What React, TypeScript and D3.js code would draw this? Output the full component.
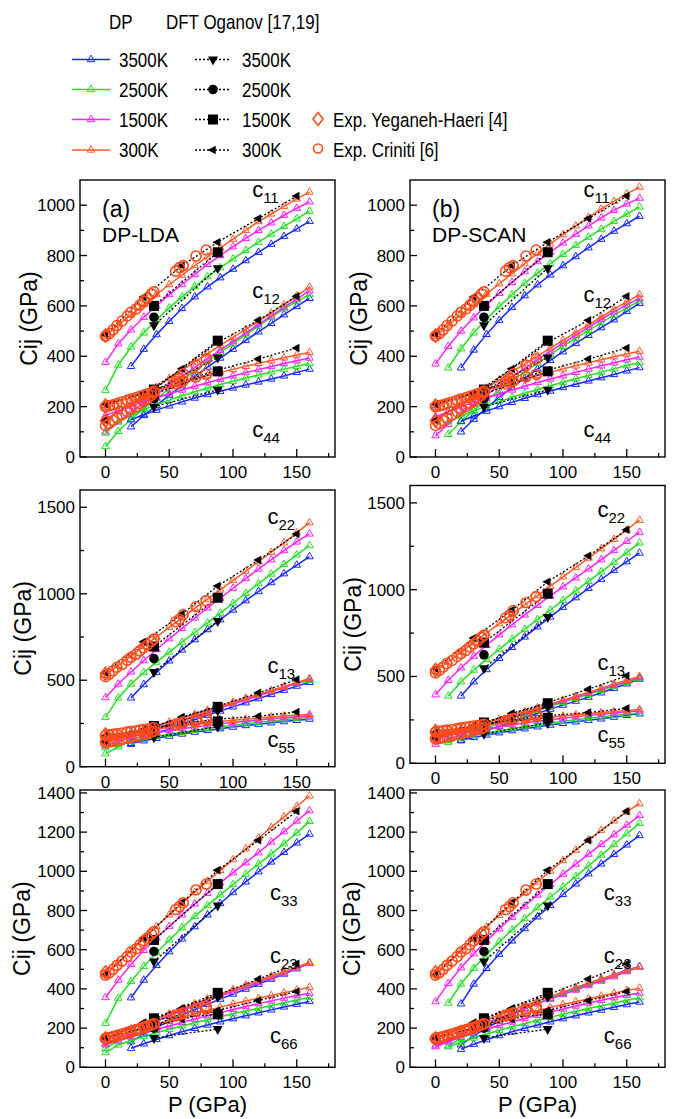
import React from 'react';
import * as d3 from 'd3';

// ---------- pressure grids (GPa) ----------
const P0 = [0, 10, 20, 30, 40, 50, 60, 70, 80, 90, 100, 110, 120, 130, 140, 150, 160];
const P10 = [10, 20, 30, 40, 50, 60, 70, 80, 90, 100, 110, 120, 130, 140, 150, 160];
const P20 = [20, 30, 40, 50, 60, 70, 80, 90, 100, 110, 120, 130, 140, 150, 160];

// order of temperature series everywhere: 3500K, 2500K, 1500K, 300K
const TEMPS = ['3500K', '2500K', '1500K', '300K'];
const DP_COLORS = ['#1428ff', '#22e022', '#ff1eff', '#ff5a28'];
const EXP_COLOR = '#ff4a1a';
const LDA_P = [P20, P0, P0, P0];
const SCAN_P = [P20, P10, P0, P0];

// ---------- DP-LDA ----------
const LDA_C11 = [
  [360, 428, 486, 539, 590, 636, 676, 712, 746, 780, 813, 845, 876, 906, 936],
  [265, 365, 437, 493, 545, 592, 636, 677, 716, 752, 787, 820, 853, 885, 916, 946, 976],
  [376, 450, 505, 555, 600, 645, 685, 725, 765, 800, 835, 868, 900, 930, 960, 988, 1013],
  [480, 525, 565, 605, 645, 685, 722, 760, 795, 830, 865, 900, 935, 965, 995, 1025, 1052],
];
const LDA_C12 = [
  [120, 165, 205, 245, 283, 320, 357, 393, 428, 463, 497, 531, 565, 598, 630],
  [42, 102, 150, 192, 232, 270, 307, 343, 380, 415, 450, 485, 520, 555, 588, 618, 645],
  [100, 140, 178, 215, 250, 285, 320, 355, 390, 424, 458, 492, 526, 560, 594, 627, 660],
  [145, 180, 212, 245, 278, 312, 345, 378, 410, 443, 475, 507, 540, 572, 605, 640, 675],
];
const LDA_C44 = [
  [148, 168, 186, 203, 219, 234, 248, 261, 274, 286, 298, 310, 322, 336, 349],
  [95, 140, 165, 188, 208, 226, 243, 259, 274, 288, 301, 314, 326, 338, 349, 360, 371],
  [165, 184, 202, 219, 235, 251, 266, 281, 295, 309, 322, 335, 347, 359, 371, 382, 393],
  [205, 220, 235, 250, 265, 280, 295, 310, 323, 336, 348, 360, 372, 383, 394, 405, 415],
];
const LDA_C22 = [
  [398, 475, 545, 612, 675, 735, 793, 850, 906, 960, 1013, 1065, 1116, 1166, 1215],
  [285, 398, 478, 545, 605, 663, 720, 776, 832, 888, 945, 1002, 1058, 1114, 1170, 1225, 1279],
  [400, 478, 548, 614, 678, 740, 800, 860, 918, 975, 1032, 1088, 1143, 1197, 1250, 1300, 1346],
  [530, 586, 641, 696, 751, 806, 861, 915, 969, 1023, 1077, 1131, 1185, 1240, 1295, 1352, 1411],
];
const LDA_C13 = [
  [130, 162, 192, 220, 247, 273, 298, 322, 346, 370, 394, 418, 442, 466, 488],
  [75, 115, 150, 182, 212, 240, 267, 293, 318, 343, 367, 391, 415, 439, 462, 481, 500],
  [120, 145, 170, 195, 220, 245, 269, 293, 317, 340, 363, 386, 410, 433, 458, 482, 505],
  [147, 168, 190, 212, 235, 258, 281, 304, 327, 350, 373, 396, 419, 441, 464, 487, 510],
];
const LDA_C55 = [
  [135, 150, 164, 177, 189, 200, 210, 220, 229, 238, 246, 254, 261, 268, 275],
  [110, 128, 145, 160, 174, 187, 199, 210, 221, 231, 240, 249, 257, 265, 272, 279, 285],
  [150, 163, 175, 187, 198, 209, 219, 229, 238, 247, 255, 263, 270, 277, 283, 288, 293],
  [183, 192, 201, 210, 219, 228, 237, 245, 253, 261, 268, 275, 282, 288, 294, 298, 302],
];
const LDA_C33 = [
  [355, 445, 520, 590, 655, 718, 778, 836, 892, 946, 998, 1048, 1097, 1145, 1190],
  [225, 353, 438, 515, 585, 650, 712, 770, 826, 880, 933, 985, 1037, 1089, 1141, 1196, 1255],
  [356, 445, 525, 597, 660, 720, 778, 834, 888, 941, 993, 1044, 1095, 1150, 1203, 1257, 1310],
  [472, 534, 596, 658, 719, 778, 836, 893, 950, 1005, 1060, 1115, 1170, 1224, 1278, 1332, 1385],
];
const LDA_C23 = [
  [131, 168, 203, 236, 266, 295, 322, 348, 374, 399, 424, 450, 476, 503, 532],
  [97, 135, 170, 203, 233, 262, 289, 315, 340, 364, 388, 412, 435, 458, 481, 505, 532],
  [120, 150, 180, 209, 237, 264, 290, 315, 340, 364, 387, 410, 433, 456, 478, 506, 530],
  [150, 172, 196, 221, 247, 273, 299, 324, 349, 373, 397, 420, 443, 466, 489, 512, 535],
];
const LDA_C66 = [
  [97, 120, 142, 162, 181, 199, 216, 232, 248, 263, 278, 293, 308, 322, 336],
  [75, 114, 137, 157, 176, 194, 211, 227, 243, 258, 273, 287, 301, 315, 329, 343, 357],
  [115, 135, 155, 174, 193, 211, 229, 246, 263, 279, 295, 310, 325, 339, 353, 366, 378],
  [148, 165, 182, 200, 218, 236, 254, 272, 290, 307, 323, 338, 352, 366, 380, 395, 409],
];

// ---------- DP-SCAN ----------
const SCAN_C11 = [
  [354, 425, 487, 543, 594, 641, 684, 723, 760, 796, 831, 865, 897, 927, 956],
  [354, 430, 493, 548, 598, 645, 690, 730, 768, 805, 840, 873, 905, 936, 965, 993],
  [370, 440, 500, 553, 603, 650, 694, 736, 776, 814, 850, 885, 918, 950, 980, 1005, 1028],
  [480, 525, 565, 605, 647, 688, 728, 768, 808, 846, 883, 918, 952, 985, 1015, 1045, 1072],
];
const SCAN_C12 = [
  [100, 150, 195, 237, 276, 313, 349, 384, 418, 451, 483, 514, 545, 578, 610],
  [90, 140, 185, 226, 265, 302, 338, 373, 407, 440, 472, 503, 534, 564, 592, 620],
  [85, 130, 172, 210, 247, 283, 318, 352, 386, 419, 451, 483, 515, 546, 576, 604, 630],
  [145, 178, 210, 242, 274, 306, 338, 370, 401, 432, 463, 494, 525, 556, 587, 616, 645],
];
const SCAN_C44 = [
  [142, 163, 182, 200, 217, 233, 248, 262, 276, 289, 302, 315, 328, 342, 355],
  [140, 162, 183, 202, 220, 237, 253, 268, 283, 297, 311, 324, 337, 350, 363, 375],
  [160, 180, 199, 217, 234, 250, 266, 281, 296, 310, 323, 336, 349, 362, 374, 386, 397],
  [205, 220, 235, 251, 266, 281, 296, 310, 324, 337, 350, 362, 374, 386, 398, 409, 420],
];
const SCAN_C22 = [
  [388, 470, 540, 605, 668, 728, 786, 843, 899, 954, 1008, 1060, 1111, 1161, 1211],
  [388, 470, 537, 598, 657, 715, 772, 828, 883, 938, 993, 1048, 1103, 1158, 1213, 1269],
  [395, 478, 550, 617, 680, 740, 798, 855, 910, 964, 1017, 1069, 1120, 1173, 1226, 1279, 1331],
  [530, 585, 640, 695, 750, 804, 858, 912, 966, 1020, 1074, 1128, 1182, 1236, 1290, 1345, 1400],
];
const SCAN_C13 = [
  [130, 160, 188, 214, 239, 264, 288, 312, 335, 358, 381, 406, 432, 458, 485],
  [120, 150, 178, 205, 231, 256, 280, 304, 328, 351, 374, 397, 420, 443, 466, 490],
  [110, 138, 164, 190, 215, 240, 264, 288, 311, 334, 357, 380, 403, 426, 449, 472, 495],
  [150, 170, 190, 211, 232, 254, 276, 298, 320, 342, 364, 387, 410, 433, 456, 478, 500],
];
const SCAN_C55 = [
  [133, 149, 163, 176, 188, 199, 210, 220, 230, 239, 248, 256, 266, 276, 285],
  [130, 146, 161, 175, 188, 200, 211, 222, 232, 242, 251, 260, 268, 276, 283, 290],
  [145, 160, 174, 187, 199, 211, 222, 232, 242, 251, 260, 268, 276, 283, 290, 296, 302],
  [183, 193, 203, 213, 222, 231, 240, 249, 257, 265, 272, 279, 286, 292, 298, 304, 310],
];
const SCAN_C33 = [
  [324, 425, 505, 577, 645, 708, 768, 826, 882, 936, 988, 1038, 1087, 1135, 1183],
  [328, 425, 505, 575, 640, 701, 759, 815, 869, 920, 974, 1028, 1083, 1137, 1192, 1245],
  [335, 428, 508, 580, 645, 707, 766, 823, 879, 933, 986, 1037, 1088, 1138, 1187, 1236, 1285],
  [472, 534, 595, 656, 716, 775, 833, 890, 946, 1001, 1055, 1108, 1160, 1210, 1258, 1303, 1345],
];
const SCAN_C23 = [
  [115, 160, 200, 236, 268, 298, 326, 352, 377, 401, 425, 449, 472, 495, 515],
  [110, 148, 184, 217, 247, 275, 302, 327, 351, 375, 398, 421, 444, 467, 490, 512],
  [110, 140, 170, 198, 226, 252, 277, 301, 325, 348, 371, 394, 417, 440, 462, 488, 512],
  [150, 172, 195, 219, 243, 267, 291, 315, 339, 362, 385, 408, 430, 451, 472, 493, 514],
];
const SCAN_C66 = [
  [92, 118, 141, 162, 181, 199, 216, 232, 248, 263, 278, 292, 306, 320, 333],
  [105, 128, 150, 170, 189, 207, 224, 240, 256, 271, 286, 300, 314, 328, 342, 355],
  [105, 130, 153, 174, 194, 213, 231, 249, 266, 282, 298, 313, 328, 342, 355, 368, 379],
  [148, 165, 183, 201, 219, 237, 255, 272, 289, 305, 320, 335, 350, 364, 378, 392, 404],
];

// ---------- DFT Oganov ----------
const DFT_P_300 = [0, 30, 60, 88, 120, 150];
const DFT_P_HOT = [38, 88];
const DFT_P_2500 = [38];
// 300K
const DFT300_C11 = [485, 635, 760, 853, 947, 1036];
const DFT300_C12 = [146, 250, 350, 455, 543, 638];
const DFT300_C44 = [210, 255, 300, 345, 389, 433];
const DFT300_C22 = [545, 722, 883, 1045, 1195, 1345];
const DFT300_C13 = [144, 210, 288, 350, 427, 504];
const DFT300_C55 = [178, 215, 250, 275, 292, 317];
const DFT300_C33 = [472, 659, 841, 1005, 1158, 1306];
const DFT300_C23 = [150, 228, 301, 370, 450, 528];
const DFT300_C66 = [150, 200, 245, 290, 341, 387];
// 1500K (38, 88 GPa)
const DFT1500_C11 = [600, 813];
const DFT1500_C12 = [268, 462];
const DFT1500_C44 = [250, 340];
const DFT1500_C22 = [695, 977];
const DFT1500_C13 = [235, 346];
const DFT1500_C55 = [228, 262];
const DFT1500_C33 = [650, 935];
const DFT1500_C23 = [250, 380];
const DFT1500_C66 = [245, 270];
// 2500K (38 GPa)
const DFT2500_C11 = [555];
const DFT2500_C12 = [258];
const DFT2500_C44 = [232];
const DFT2500_C22 = [625];
const DFT2500_C13 = [225];
const DFT2500_C55 = [215];
const DFT2500_C33 = [591];
const DFT2500_C23 = [235];
const DFT2500_C66 = [200];
// 3500K (38, 88 GPa)
const DFT3500_C11 = [523, 750];
const DFT3500_C12 = [262, 395];
const DFT3500_C44 = [200, 267];
const DFT3500_C22 = [548, 842];
const DFT3500_C13 = [220, 325];
const DFT3500_C55 = [170, 232];
const DFT3500_C33 = [540, 825];
const DFT3500_C23 = [210, 360];
const DFT3500_C66 = [150, 195];

// ---------- Experiments ----------
const YH = { C11: 482, C22: 537, C33: 485, C44: 204, C55: 186, C66: 147, C12: 144, C13: 147, C23: 146 };
const CRIN_P = [0, 3, 6, 9, 13, 17, 20, 24, 27, 30, 33, 36, 38, 55, 58, 61, 71, 79];
const CRIN_C11 = [480, 490, 505, 522, 540, 560, 575, 588, 603, 618, 632, 648, 656, 738, 752, 760, 798, 822];
const CRIN_C12 = [125, 133, 145, 155, 168, 180, 190, 200, 212, 222, 232, 245, 255, 300, 312, 330, 365, 390];
const CRIN_C44 = [200, 203, 207, 212, 218, 225, 230, 236, 241, 246, 251, 257, 262, 290, 296, 302, 318, 328];
const CRIN_C22 = [520, 535, 555, 575, 592, 615, 632, 650, 670, 688, 705, 725, 738, 838, 852, 880, 925, 960];
const CRIN_C13 = [140, 143, 147, 152, 158, 165, 170, 176, 182, 188, 194, 200, 205, 242, 250, 258, 275, 285];
const CRIN_C55 = [180, 184, 187, 191, 195, 200, 204, 208, 212, 215, 218, 222, 225, 245, 250, 255, 265, 272];
const CRIN_C33 = [470, 482, 500, 520, 542, 565, 588, 605, 625, 645, 660, 680, 692, 805, 820, 840, 905, 935];
const CRIN_C23 = [145, 150, 155, 160, 168, 175, 180, 188, 195, 200, 210, 215, 222, 265, 272, 278, 300, 310];
const CRIN_C66 = [148, 152, 157, 163, 170, 178, 185, 192, 198, 205, 212, 218, 222, 262, 268, 274, 287, 298];

// ---------- tick values ----------
const X_MAJOR = [0, 50, 100, 150];
const X_MINOR = [25, 75, 125, 175];
const Y1_MAJOR = [0, 200, 400, 600, 800, 1000];
const Y1_MINOR = [100, 300, 500, 700, 900];
const Y2_MAJOR = [0, 500, 1000, 1500];
const Y2_MINOR = [250, 750, 1250];
const Y3_MAJOR = [0, 200, 400, 600, 800, 1000, 1200, 1400];
const Y3_MINOR = [100, 300, 500, 700, 900, 1100, 1300];

const FONT = '"Liberation Sans", Arial, Helvetica, sans-serif';

type Comp = {
  name: string; sub: string;
  dp: number[][];
  dft: number[][]; // 3500, 2500, 1500, 300
  crin: number[]; yh: number;
  lab: [number, number];
};

function makeComp(name: string, sub: string, dp: number[][], dft: number[][], crin: number[], yh: number, lab: [number, number]): Comp {
  return { name, sub, dp, dft, crin, yh, lab };
}

const ROW_TOP = [
  { c: ['c', '11'], lda: LDA_C11, scan: SCAN_C11, dft: [DFT3500_C11, DFT2500_C11, DFT1500_C11, DFT300_C11], crin: CRIN_C11, yh: YH.C11 },
  { c: ['c', '12'], lda: LDA_C12, scan: SCAN_C12, dft: [DFT3500_C12, DFT2500_C12, DFT1500_C12, DFT300_C12], crin: CRIN_C12, yh: YH.C12 },
  { c: ['c', '44'], lda: LDA_C44, scan: SCAN_C44, dft: [DFT3500_C44, DFT2500_C44, DFT1500_C44, DFT300_C44], crin: CRIN_C44, yh: YH.C44 },
];
const ROW_MID = [
  { c: ['c', '22'], lda: LDA_C22, scan: SCAN_C22, dft: [DFT3500_C22, DFT2500_C22, DFT1500_C22, DFT300_C22], crin: CRIN_C22, yh: YH.C22 },
  { c: ['c', '13'], lda: LDA_C13, scan: SCAN_C13, dft: [DFT3500_C13, DFT2500_C13, DFT1500_C13, DFT300_C13], crin: CRIN_C13, yh: YH.C13 },
  { c: ['c', '55'], lda: LDA_C55, scan: SCAN_C55, dft: [DFT3500_C55, DFT2500_C55, DFT1500_C55, DFT300_C55], crin: CRIN_C55, yh: YH.C55 },
];
const ROW_BOT = [
  { c: ['c', '33'], lda: LDA_C33, scan: SCAN_C33, dft: [DFT3500_C33, DFT2500_C33, DFT1500_C33, DFT300_C33], crin: CRIN_C33, yh: YH.C33 },
  { c: ['c', '23'], lda: LDA_C23, scan: SCAN_C23, dft: [DFT3500_C23, DFT2500_C23, DFT1500_C23, DFT300_C23], crin: CRIN_C23, yh: YH.C23 },
  { c: ['c', '66'], lda: LDA_C66, scan: SCAN_C66, dft: [DFT3500_C66, DFT2500_C66, DFT1500_C66, DFT300_C66], crin: CRIN_C66, yh: YH.C66 },
];

type PanelCfg = {
  left: number; right: number; top: number; bottom: number; yMax: number;
  yMajor: number[]; yMinor: number[];
  comps: Comp[]; pGrid: number[][];
  tag?: string; method?: string; xTitle: boolean; titleOff: number;
};

function buildPanels(): PanelCfg[] {
  const cols = [{ left: 80, right: 335 }, { left: 410, right: 665 }];
  const rows = [
    { set: ROW_TOP, yMax: 1100, yMajor: Y1_MAJOR, yMinor: Y1_MINOR, tops: [180, 180], bottoms: [457, 457], titleOff: 43,
      labs: [[[115, 1034], [115, 632], [115, 80]], [[116, 1034], [116, 616], [116, 80]]] },
    { set: ROW_MID, yMax: 1600, yMajor: Y2_MAJOR, yMinor: Y2_MINOR, tops: [490, 485.5], bottoms: [766.7, 763.3], titleOff: 49,
      labs: [[[127, 1406], [127, 540], [127, 113]], [[127, 1419], [127, 538], [127, 123]]] },
    { set: ROW_BOT, yMax: 1415, yMajor: Y3_MAJOR, yMinor: Y3_MINOR, tops: [790, 790], bottoms: [1067.3, 1067.3], titleOff: 50,
      labs: [[[129, 855], [129, 533], [129, 124]], [[132, 855], [132, 533], [132, 124]]] },
  ];
  const out: PanelCfg[] = [];
  rows.forEach((r, ri) => {
    cols.forEach((c, ci) => {
      out.push({
        left: c.left, right: c.right, top: r.tops[ci], bottom: r.bottoms[ci], yMax: r.yMax,
        yMajor: r.yMajor, yMinor: r.yMinor, titleOff: r.titleOff,
        pGrid: ci === 0 ? LDA_P : SCAN_P,
        comps: r.set.map((s, k) => makeComp(s.c[0], s.c[1], ci === 0 ? s.lda : s.scan, s.dft, s.crin, s.yh, r.labs[ci][k] as [number, number])),
        tag: ri === 0 ? (ci === 0 ? '(a)' : '(b)') : undefined,
        method: ri === 0 ? (ci === 0 ? 'DP-LDA' : 'DP-SCAN') : undefined,
        xTitle: ri === 2,
      });
    });
  });
  return out;
}

// ---------- marker paths ----------
function triUp(w: number, h: number) { return `M0,${-h * 2 / 3}L${w / 2},${h / 3}L${-w / 2},${h / 3}Z`; }
function triDown(w: number, h: number) { return `M0,${h * 2 / 3}L${w / 2},${-h / 3}L${-w / 2},${-h / 3}Z`; }
function triLeft(w: number, h: number) { return `M${-h * 2 / 3},0L${h / 3},${-w / 2}L${h / 3},${w / 2}Z`; }
function square(s: number) { return `M${-s / 2},${-s / 2}h${s}v${s}h${-s}Z`; }
function diamond(w: number, h: number) { return `M0,${-h / 2}L${w / 2},0L0,${h / 2}L${-w / 2},0Z`; }

const DP_TRI = triUp(7.5, 6.5);

function DftMarker({ k, x, y }: { k: number; x: number; y: number }) {
  if (k === 0) return <path d={triDown(10, 9)} transform={`translate(${x},${y})`} fill="#000" />;
  if (k === 1) return <circle cx={x} cy={y} r={4.8} fill="#000" />;
  if (k === 2) return <path d={square(10)} transform={`translate(${x},${y})`} fill="#000" />;
  return <path d={triLeft(8.5, 8)} transform={`translate(${x},${y})`} fill="#000" />;
}
const DFT_PS = [DFT_P_HOT, DFT_P_2500, DFT_P_HOT, DFT_P_300];

function Panel({ cfg }: { cfg: PanelCfg }) {
  const x = d3.scaleLinear().domain([-20, 180]).range([cfg.left, cfg.right]);
  const y = d3.scaleLinear().domain([0, cfg.yMax]).range([cfg.bottom, cfg.top]);
  const line = d3.line<[number, number]>().x(d => x(d[0])).y(d => y(d[1]));
  const cy = (cfg.top + cfg.bottom) / 2;
  return (
    <g>
      {/* DP lines */}
      {cfg.comps.map((c, ci) => (
        <g key={'dp' + ci}>
          {c.dp.map((vals, ti) => {
            const pts = vals.map((v, i) => [cfg.pGrid[ti][i], v] as [number, number]);
            return (
              <g key={ti}>
                <path d={line(pts) || ''} fill="none" stroke={DP_COLORS[ti]} strokeWidth={1.5} />
                {pts.map((p, i) => (
                  <path key={i} d={DP_TRI} transform={`translate(${x(p[0])},${y(p[1])})`} fill="none" stroke={DP_COLORS[ti]} strokeWidth={1} />
                ))}
              </g>
            );
          })}
        </g>
      ))}
      {/* DFT */}
      {cfg.comps.map((c, ci) => (
        <g key={'dft' + ci}>
          {c.dft.map((vals, k) => {
            const pts = vals.map((v, i) => [DFT_PS[k][i], v] as [number, number]);
            return (
              <g key={k}>
                {pts.length > 1 && <path d={line(pts) || ''} fill="none" stroke="#000" strokeWidth={1.3} strokeDasharray="2,2" />}
                {pts.map((p, i) => <DftMarker key={i} k={k} x={x(p[0])} y={y(p[1])} />)}
              </g>
            );
          })}
        </g>
      ))}
      {/* Experiments */}
      {cfg.comps.map((c, ci) => (
        <g key={'exp' + ci}>
          {c.crin.map((v, i) => (
            <circle key={i} cx={x(CRIN_P[i])} cy={y(v)} r={5} fill="none" stroke={EXP_COLOR} strokeWidth={1.6} />
          ))}
          <path d={diamond(10, 13)} transform={`translate(${x(0)},${y(c.yh)})`} fill="none" stroke={EXP_COLOR} strokeWidth={1.6} />
        </g>
      ))}
      {/* frame */}
      <rect x={cfg.left} y={cfg.top} width={cfg.right - cfg.left} height={cfg.bottom - cfg.top} fill="none" stroke="#000" strokeWidth={1.4} />
      {/* x ticks */}
      {X_MAJOR.map(t => (
        <g key={'xm' + t}>
          <line x1={x(t)} x2={x(t)} y1={cfg.bottom} y2={cfg.bottom - 8} stroke="#000" strokeWidth={1.3} />
          <text x={x(t)} y={cfg.bottom + 21} textAnchor="middle" fontSize={17} fontFamily={FONT}>{t}</text>
        </g>
      ))}
      {X_MINOR.map(t => <line key={'xn' + t} x1={x(t)} x2={x(t)} y1={cfg.bottom} y2={cfg.bottom - 4} stroke="#000" strokeWidth={1.3} />)}
      {/* y ticks */}
      {cfg.yMajor.map(t => (
        <g key={'ym' + t}>
          <line x1={cfg.left} x2={cfg.left + 7} y1={y(t)} y2={y(t)} stroke="#000" strokeWidth={1.3} />
          <text x={cfg.left - 5} y={y(t) + 6} textAnchor="end" fontSize={17} fontFamily={FONT}>{t}</text>
        </g>
      ))}
      {cfg.yMinor.map(t => <line key={'yn' + t} x1={cfg.left} x2={cfg.left + 4} y1={y(t)} y2={y(t)} stroke="#000" strokeWidth={1.3} />)}
      {/* y title */}
      <text transform={`translate(${cfg.left - cfg.titleOff},${cy}) rotate(-90)`} textAnchor="middle" fontSize={23} fontFamily={FONT}>Cij (GPa)</text>
      {cfg.xTitle && (
        <text x={(cfg.left + cfg.right) / 2} y={cfg.bottom + 45} textAnchor="middle" fontSize={22} fontFamily={FONT}>P (GPa)</text>
      )}
      {/* component labels */}
      {cfg.comps.map((c, ci) => (
        <text key={'lab' + ci} x={x(c.lab[0])} y={y(c.lab[1])} fontSize={22} fontFamily={FONT}>
          {c.name}<tspan fontSize={15} dy={6}>{c.sub}</tspan>
        </text>
      ))}
      {cfg.tag && <text x={cfg.left + 22} y={cfg.top + 37} fontSize={23} fontFamily={FONT}>{cfg.tag}</text>}
      {cfg.method && <text x={cfg.left + 22} y={cfg.top + 62} fontSize={21} fontFamily={FONT}>{cfg.method}</text>}
    </g>
  );
}

function LText({ x, y, children }: { x: number; y: number; children: React.ReactNode }) {
  return (
    <g transform={`translate(${x},${y}) scale(0.88,1)`}>
      <text x={0} y={0} fontFamily={FONT} fontSize={19.3}>{children}</text>
    </g>
  );
}

function Legend() {
  const rowsY = [59.5, 89.5, 119.5, 150];
  return (
    <g>
      <LText x={109} y={29}>DP</LText>
      <LText x={166} y={29}>DFT Oganov [17,19]</LText>
      {TEMPS.map((t, i) => (
        <g key={t}>
          <line x1={72} x2={110} y1={rowsY[i]} y2={rowsY[i]} stroke={DP_COLORS[i]} strokeWidth={1.6} />
          <path d={DP_TRI} transform={`translate(91,${rowsY[i]})`} fill="none" stroke={DP_COLORS[i]} strokeWidth={1} />
          <LText x={119} y={rowsY[i] + 7}>{t}</LText>
          <line x1={195} x2={231} y1={rowsY[i]} y2={rowsY[i]} stroke="#000" strokeWidth={1.3} strokeDasharray="2,2" />
          <DftMarker k={i} x={213} y={rowsY[i]} />
          <LText x={242} y={rowsY[i] + 7}>{t}</LText>
        </g>
      ))}
      <path d={diamond(10, 13)} transform="translate(318,119)" fill="none" stroke={EXP_COLOR} strokeWidth={1.6} />
      <LText x={333} y={126.5}>Exp. Yeganeh-Haeri [4]</LText>
      <circle cx={318} cy={148.5} r={4.5} fill="none" stroke={EXP_COLOR} strokeWidth={1.6} />
      <LText x={333} y={156.5}>Exp. Criniti [6]</LText>
    </g>
  );
}

export default function App() {
  const panels = buildPanels();
  return (
    <svg width={684} height={1119} style={{ position: 'absolute', left: 0, top: 0, background: '#fff' }}>
      <rect width={684} height={1119} fill="#fff" />
      <Legend />
      {panels.map((p, i) => <Panel key={i} cfg={p} />)}
    </svg>
  );
}
